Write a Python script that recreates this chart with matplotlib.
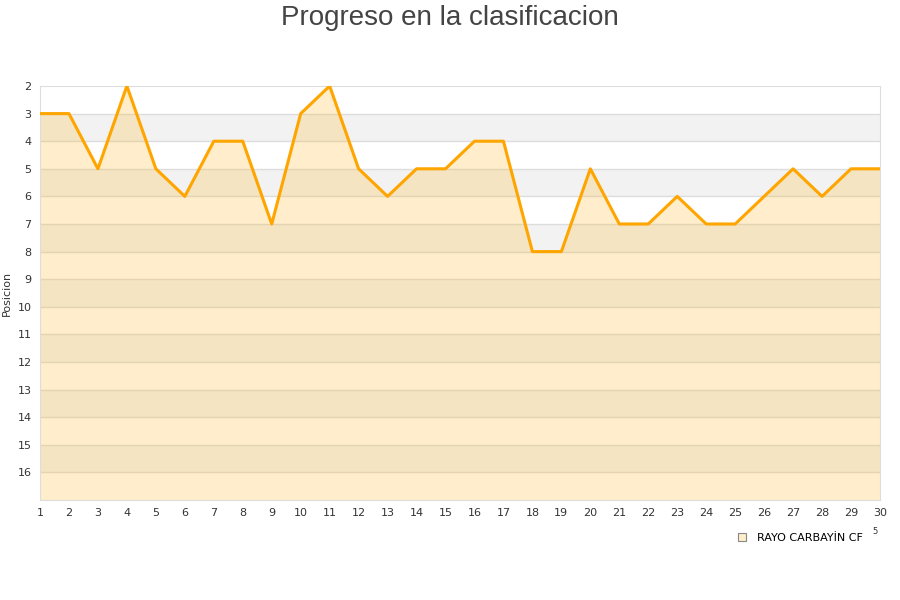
import matplotlib
matplotlib.use("Agg")
import matplotlib.pyplot as plt
from matplotlib.lines import Line2D

jornadas = list(range(1, 31))
posicion = [3, 3, 5, 2, 5, 6, 4, 4, 7, 3, 2, 5, 6, 5, 5, 4, 4, 8, 8, 5,
            7, 7, 6, 7, 7, 6, 5, 6, 5, 5]
y_ticks = list(range(2, 17))
equipo = "RAYO CARBAYİN CF"

line_color = '#ffa500'
fill_color = '#ffbb33'

fig = plt.figure(figsize=(9, 6), dpi=100)
ax = fig.add_axes([40/900, 1-500/600, 840/900, 414/600])

# alternating background bands
for k in range(2, 17):
    if k % 2 == 1:
        ax.axhspan(k, k + 1, color='#f2f2f2', lw=0, zorder=0)
for k in range(3, 17):
    ax.axhline(k, color='#dddddd', lw=1, zorder=1)

ax.fill_between(jornadas, posicion, 17, color=fill_color, alpha=0.25, lw=0, zorder=2)
ax.plot(jornadas, posicion, color=line_color, lw=2.2, zorder=3)

ax.set_xlim(1, 30)
ax.set_ylim(17, 2)
ax.set_xticks(jornadas)
ax.set_yticks(y_ticks)
ax.tick_params(length=0, labelsize=8, labelcolor='#333333', pad=6)
for s in ax.spines.values():
    s.set_color('#dddddd')

ax.set_ylabel('Posicion', fontsize=8, color='#333333', labelpad=4)
fig.text(0.5, 0.992, 'Progreso en la clasificacion', ha='center', va='top',
         fontsize=20, color='#444444', family='Liberation Sans')

handle = Line2D([], [], marker='s', ls='', markersize=6,
                markerfacecolor='#ffeecc', markeredgecolor='#888888', markeredgewidth=0.8)
fig.legend([handle], [equipo], loc='center', bbox_to_anchor=(797/900, 1-538/600),
           frameon=False, fontsize=8, handletextpad=0.3)
fig.text(875/900, 1-532/600, '5', fontsize=6, color='#333333', ha='center', va='center')

fig.savefig('out.png', dpi=100)
